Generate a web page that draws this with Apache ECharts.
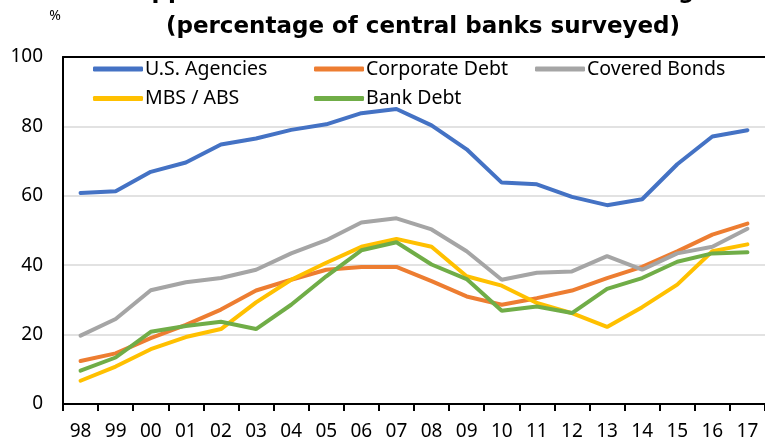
<!DOCTYPE html>
<html>
<head>
<meta charset="utf-8">
<script src="https://cdn.jsdelivr.net/npm/echarts@6/dist/echarts.min.js"></script>
<style>
  html, body { margin: 0; padding: 0; background: #fff; }
  #chart { width: 765px; height: 445px; }
</style>
</head>
<body>
<div id="chart"></div>
<script>
// Survey years (two-digit labels)
const years = ['98','99','00','01','02','03','04','05','06','07','08','09','10','11','12','13','14','15','16','17'];

// Share of central banks approving each asset class, %
const usAgencies    = [60.8, 61.3, 66.9, 69.6, 74.8, 76.5, 79.0, 80.6, 83.8, 85.0, 80.3, 73.4, 63.8, 63.3, 59.7, 57.3, 59.0, 69.1, 77.1, 78.9];
const corporateDebt = [12.4, 14.6, 19.0, 22.8, 27.2, 32.7, 35.8, 38.7, 39.5, 39.5, 35.4, 31.0, 28.6, 30.5, 32.7, 36.3, 39.5, 44.0, 48.8, 52.0];
const coveredBonds  = [19.7, 24.5, 32.8, 35.1, 36.3, 38.7, 43.4, 47.2, 52.3, 53.5, 50.3, 44.0, 35.8, 37.8, 38.2, 42.6, 38.7, 43.4, 45.3, 50.5];
const mbsAbs        = [6.7, 10.8, 15.8, 19.3, 21.6, 29.3, 35.8, 40.7, 45.3, 47.6, 45.3, 36.8, 34.1, 29.1, 26.2, 22.2, 27.9, 34.4, 44.0, 46.0];
const bankDebt      = [9.6, 13.4, 20.8, 22.5, 23.7, 21.6, 28.6, 36.8, 44.3, 46.6, 40.2, 36.0, 26.9, 28.1, 26.2, 33.2, 36.3, 41.0, 43.4, 43.7];

const yTicks = [0, 20, 40, 60, 80, 100];

const titleLines = ['Approved asset classes for reserve holding', '(percentage of central banks surveyed)'];

const FONT = '"Noto Sans", "Open Sans", sans-serif';
const TITLE_FONT = '"DejaVu Sans", sans-serif';

const seriesDefs = [
  { name: 'U.S. Agencies',  data: usAgencies,    color: '#4472C4' },
  { name: 'Corporate Debt', data: corporateDebt, color: '#ED7D31' },
  { name: 'Covered Bonds',  data: coveredBonds,  color: '#A5A5A5' },
  { name: 'MBS / ABS',      data: mbsAbs,        color: '#FFC000' },
  { name: 'Bank Debt',      data: bankDebt,      color: '#70AD47' }
];

function legendColumn(names, left) {
  return {
    orient: 'vertical',
    left: left,
    top: 59,
    itemGap: 9.5,
    itemWidth: 50,
    itemHeight: 5,
    icon: 'roundRect',
    padding: 0,
    data: names,
    textStyle: { fontFamily: FONT, fontSize: 19.5, color: '#000', padding: [0, 0, 0, -3] },
    selectedMode: false
  };
}

function titleLine(text, top, left) {
  return {
    text: text,
    left: left,
    textAlign: 'center',
    top: top,
    padding: 0,
    textStyle: { fontFamily: TITLE_FONT, fontWeight: 'bold', fontSize: 23, lineHeight: 23, color: '#000' }
  };
}

const chart = echarts.init(document.getElementById('chart'), null, { renderer: 'canvas' });

chart.setOption({
  animation: false,
  backgroundColor: '#fff',
  title: [
    titleLine(titleLines[0], -19, 414),
    titleLine(titleLines[1], 16, 423)
  ],
  legend: [
    legendColumn(['U.S. Agencies', 'MBS / ABS'], 93),
    legendColumn(['Corporate Debt', 'Bank Debt'], 314),
    legendColumn(['Covered Bonds'], 535)
  ],
  grid: { left: 63, right: 0, top: 57, bottom: 41, containLabel: false },
  xAxis: [
    {
      type: 'category',
      data: years,
      boundaryGap: true,
      axisLine: { lineStyle: { color: '#000', width: 2 } },
      axisTick: { show: true, length: 7, lineStyle: { color: '#000', width: 2 } },
      axisLabel: { fontFamily: FONT, fontSize: 19, color: '#000', margin: 18, interval: 0 }
    },
    {
      type: 'category',
      data: years,
      position: 'top',
      axisLine: { lineStyle: { color: '#000', width: 2 } },
      axisTick: { show: false },
      axisLabel: { show: false }
    }
  ],
  yAxis: {
    type: 'value',
    min: yTicks[0],
    max: yTicks[yTicks.length - 1],
    interval: 20,
    name: '%',
    nameLocation: 'end',
    nameGap: 34,
    nameTextStyle: { fontFamily: FONT, fontSize: 14, color: '#000', align: 'right', padding: [0, 2, 0, 0] },
    axisLine: { show: true, lineStyle: { color: '#000', width: 2 } },
    axisTick: { show: false },
    axisLabel: { fontFamily: FONT, fontSize: 19, color: '#000', margin: 20 },
    splitLine: { lineStyle: { color: '#D9D9D9', width: 1.5 } }
  },
  series: seriesDefs.map(s => ({
    name: s.name,
    type: 'line',
    data: s.data,
    color: s.color,
    symbol: 'none',
    lineStyle: { width: 4, color: s.color, cap: 'round' },
    z: 3
  }))
});
</script>
</body>
</html>
